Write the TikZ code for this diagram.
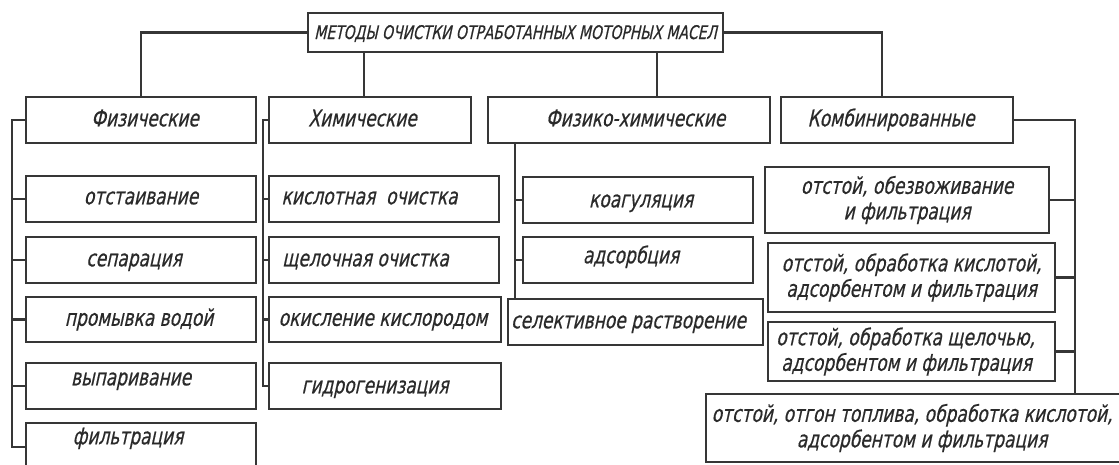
\documentclass[tikz,border=0pt]{standalone}
\usepackage{fontspec}
\newfontfamily\rusf{DejaVu Sans}[FakeStretch=0.74, FakeSlant=0.22, FakeBold=0.5]
\definecolor{lc}{HTML}{363636}
\definecolor{tc}{HTML}{2A2A2A}
\newcommand{\mvt}[3]{\raisebox{#2}{\makebox[0pt]{\kern#1\relax #3\kern-#1\relax}}}
\tikzset{
  bx/.style={draw=lc, line width=2.1pt, inner sep=0pt, minimum height=46pt, text=tc,
             font=\rusf\fontsize{23}{25.5}\selectfont, text height=12.6pt, text depth=0pt},
  two/.style={draw=lc, line width=2.1pt, inner sep=0pt, text=tc, align=center,
             font=\rusf\fontsize{23}{25.5}\selectfont},
  ttl/.style={draw=lc, line width=2.1pt, inner sep=0pt, text=tc,
             font=\rusf\fontsize{18.8}{21}\selectfont, text height=13pt, text depth=0pt},
  ln/.style={draw=lc, line width=2.1pt}
}
\begin{document}
\begin{tikzpicture}[x=1pt,y=-1pt]
\useasboundingbox (0,0) rectangle (1119,464);
% title
\node[ttl, minimum width=415pt, minimum height=39pt] (title) at (515.5,32.5) {МЕТОДЫ ОЧИСТКИ ОТРАБОТАННЫХ МОТОРНЫХ МАСЕЛ};
% level 1
\node[bx, minimum width=230pt] (phys) at (141,120) {\mvt{4pt}{0pt}{Физические}};
\node[bx, minimum width=202pt] (chem) at (370,120) {\mvt{-7.5pt}{0pt}{Химические}};
\node[bx, minimum width=282pt] (pc) at (629,120) {\mvt{6.5pt}{0pt}{Физико-химические}};
\node[bx, minimum width=232pt] (comb) at (897,120) {\mvt{-6pt}{0pt}{Комбинированные}};
% physical
\node[bx, minimum width=230pt] (otst) at (141,199) {\mvt{0pt}{1pt}{отстаивание}};
\node[bx, minimum width=230pt] (sep) at (141,260) {\mvt{-7pt}{0pt}{сепарация}};
\node[bx, minimum width=230pt, minimum height=45pt] (prom) at (141,319.5) {\mvt{-2pt}{0pt}{промывка водой}};
\node[bx, minimum width=230pt] (vyp) at (141,386) {\mvt{-10pt}{7pt}{выпаривание}};
\node[bx, minimum width=230pt, minimum height=45pt] (filt) at (141,445.5) {\mvt{-13pt}{7.5pt}{фильтрация}};
% chemical
\node[bx, minimum width=230pt] (kisl) at (384,199) {\mvt{-14.5pt}{1pt}{кислотная\ \ очистка}};
\node[bx, minimum width=230pt] (shel) at (384,260) {\mvt{-18.5pt}{0pt}{щелочная очистка}};
\node[bx, minimum width=232pt, minimum height=45pt] (okis) at (385,319.5) {\mvt{-2pt}{0pt}{окисление кислородом}};
\node[bx, minimum width=232pt] (gidr) at (385,386) {\mvt{-10pt}{-1pt}{гидрогенизация}};
% physico-chemical
\node[bx, minimum width=230pt] (koag) at (638,200) {\mvt{3pt}{-1pt}{коагуляция}};
\node[bx, minimum width=230pt] (adso) at (638,260) {\mvt{-7pt}{3pt}{адсорбция}};
\node[bx, minimum width=255pt] (sel) at (635.5,322) {\mvt{-7pt}{0pt}{селективное растворение}};
% combined
\node[two, minimum width=284pt, minimum height=66pt] (obez) at (907,200) {отстой, обезвоживание\\и фильтрация};
\node[two, minimum width=287pt, minimum height=69pt] (kisl2) at (911.5,277.5) {отстой, обработка кислотой,\\адсорбентом и фильтрация};
\node[two, minimum width=287pt, minimum height=59pt] (shch) at (911.5,351.5) {\hspace*{-12pt}отстой, обработка щелочью,\\\hspace*{-10pt}адсорбентом и фильтрация};
\node[two, minimum width=432pt, minimum height=68pt] (otg) at (922,428) {\hspace*{-20pt}отстой, отгон топлива, обработка кислотой,\\адсорбентом и фильтрация};
% bus coordinates
\coordinate (busP) at (12,0);
\coordinate (busC) at (263,0);
\coordinate (busPC) at (515,0);
\coordinate (busK) at (1075,0);
% title connectors
\draw[ln] (title.west) -| (phys.north);
\draw[ln] ([xshift=-6pt]chem.north) -- ([xshift=-6pt]chem.north |- title.south);
\draw[ln] ([xshift=28pt]pc.north) -- ([xshift=28pt]pc.north |- title.south);
\draw[ln] (title.east) -| ([xshift=-15pt]comb.north);
% physical bus
\draw[ln] (phys.west) -- (phys.west -| busP) |- ([yshift=-1.5pt]filt.west);
\foreach \n in {otst,sep,prom,vyp} \draw[ln] (\n.west -| busP) -- (\n.west);
% chemical bus
\draw[ln] (chem.west) -- (chem.west -| busC) |- (gidr.west);
\foreach \n in {kisl,shel,okis} \draw[ln] (\n.west -| busC) -- (\n.west);
% physico-chemical bus
\draw[ln] (pc.south -| busPC) -- (sel.north -| busPC);
\foreach \n in {koag,adso} \draw[ln] (\n.west -| busPC) -- (\n.west);
% combined bus
\draw[ln] (comb.east) -- (comb.east -| busK) -- (otg.north -| busK);
\foreach \n in {obez,kisl2,shch} \draw[ln] (\n.east) -- (\n.east -| busK);
\end{tikzpicture}
\end{document}
